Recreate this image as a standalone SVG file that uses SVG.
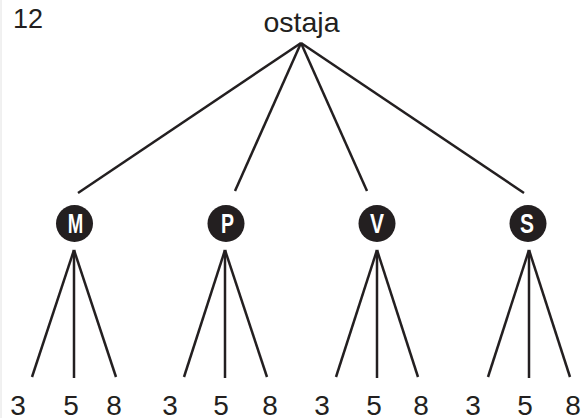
<svg xmlns="http://www.w3.org/2000/svg" width="584" height="418" viewBox="0 0 584 418">
  <style>
    .edge { stroke: #231f20; stroke-width: 2.5; stroke-linecap: butt; fill: none; }
    .lbl { font-family: "Liberation Sans", Arial, Helvetica, sans-serif; fill: #231f20; }
    .num { font-size: 28px; text-anchor: middle; }
    .disc { fill: #231f20; }
    .letter { font-family: "Liberation Sans", Arial, Helvetica, sans-serif; font-weight: bold; font-size: 27px; fill: #ffffff; text-anchor: middle; }
  </style>
  <rect width="584" height="418" fill="#ffffff"/>
  <line x1="1" y1="0" x2="1" y2="418" stroke="#e2e2e2" stroke-width="1"/>

  <text class="lbl" x="13" y="28" font-size="27">12</text>

  <g id="root">
    <text class="lbl" x="301.5" y="32" font-size="28.5" text-anchor="middle">ostaja</text>
  </g>

  <g id="connectors">
    <line class="edge" x1="301" y1="43" x2="78" y2="193"/>
    <line class="edge" x1="301" y1="43" x2="235" y2="191"/>
    <line class="edge" x1="301" y1="43" x2="367" y2="191"/>
    <line class="edge" x1="301" y1="43" x2="524" y2="193"/>

    <line class="edge" x1="74" y1="250" x2="32" y2="377"/>
    <line class="edge" x1="74" y1="250" x2="74" y2="378"/>
    <line class="edge" x1="74" y1="250" x2="116" y2="377"/>

    <line class="edge" x1="225" y1="250" x2="184" y2="377"/>
    <line class="edge" x1="225" y1="250" x2="225" y2="378"/>
    <line class="edge" x1="225" y1="250" x2="267" y2="377"/>

    <line class="edge" x1="377" y1="250" x2="336" y2="377"/>
    <line class="edge" x1="377" y1="250" x2="377" y2="378"/>
    <line class="edge" x1="377" y1="250" x2="418" y2="377"/>

    <line class="edge" x1="529" y1="250" x2="488" y2="377"/>
    <line class="edge" x1="529" y1="250" x2="529" y2="378"/>
    <line class="edge" x1="529" y1="250" x2="570" y2="377"/>
  </g>

  <g id="node-M">
    <circle class="disc" cx="74.5" cy="223.5" r="18.5"/>
    <text class="letter" x="75.5" y="233" textLength="15.5" lengthAdjust="spacingAndGlyphs">M</text>
  </g>
  <g id="node-P">
    <circle class="disc" cx="226" cy="223.5" r="18.5"/>
    <text class="letter" x="227.5" y="233" textLength="13" lengthAdjust="spacingAndGlyphs">P</text>
  </g>
  <g id="node-V">
    <circle class="disc" cx="377" cy="223.5" r="18.5"/>
    <text class="letter" x="377" y="233" textLength="14" lengthAdjust="spacingAndGlyphs">V</text>
  </g>
  <g id="node-S">
    <circle class="disc" cx="528" cy="223.5" r="18.5"/>
    <text class="letter" x="527" y="233" textLength="14" lengthAdjust="spacingAndGlyphs">S</text>
  </g>

  <g id="leaves">
    <text class="lbl num" x="18" y="415">3</text>
    <text class="lbl num" x="71" y="415">5</text>
    <text class="lbl num" x="114" y="415">8</text>
    <text class="lbl num" x="170" y="415">3</text>
    <text class="lbl num" x="221" y="415">5</text>
    <text class="lbl num" x="270" y="415">8</text>
    <text class="lbl num" x="322" y="415">3</text>
    <text class="lbl num" x="374" y="415">5</text>
    <text class="lbl num" x="421" y="415">8</text>
    <text class="lbl num" x="473" y="415">3</text>
    <text class="lbl num" x="525" y="415">5</text>
    <text class="lbl num" x="573" y="415">8</text>
  </g>
</svg>
